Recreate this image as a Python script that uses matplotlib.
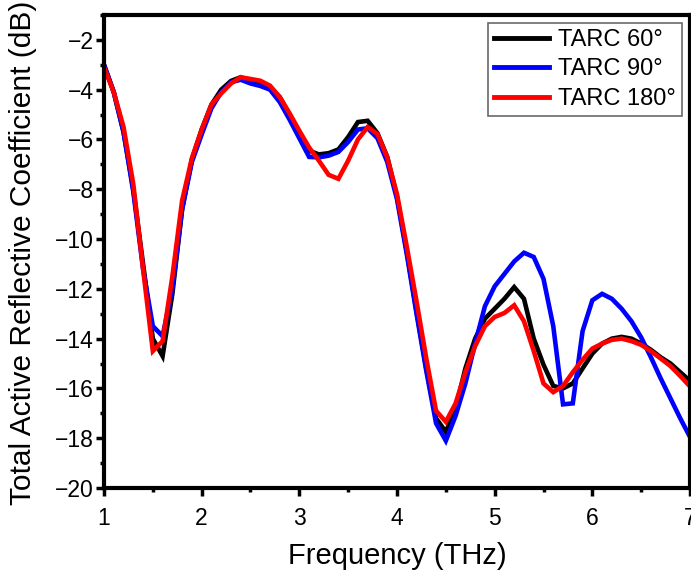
import numpy as np
import matplotlib
matplotlib.use("Agg")
import matplotlib.pyplot as plt
from matplotlib.ticker import MultipleLocator

plt.rcParams['font.family'] = ['Liberation Sans', 'DejaVu Sans']

# frequency points (THz)
freq = [1.0, 1.1, 1.2, 1.3, 1.4, 1.5, 1.6, 1.7, 1.8, 1.9,
        2.0, 2.1, 2.2, 2.3, 2.4, 2.5, 2.6, 2.7, 2.8, 2.9,
        3.0, 3.1, 3.2, 3.3, 3.4, 3.5, 3.6, 3.7, 3.8, 3.9,
        4.0, 4.1, 4.2, 4.3, 4.4, 4.5, 4.6, 4.7, 4.8, 4.9,
        5.0, 5.1, 5.2, 5.3, 5.4, 5.5, 5.6, 5.7, 5.8, 5.9,
        6.0, 6.1, 6.2, 6.3, 6.4, 6.5, 6.6, 6.7, 6.8, 6.9, 7.0]

tarc_60 = [-3.0, -4.1, -5.7, -8.0, -11.0, -14.0, -14.7, -12.2, -8.8, -6.8,
           -5.6, -4.6, -4.0, -3.65, -3.5, -3.65, -3.75, -3.9, -4.3, -5.0,
           -5.75, -6.45, -6.6, -6.55, -6.4, -5.9, -5.3, -5.25, -5.75, -6.7,
           -8.3, -10.5, -12.9, -15.2, -17.2, -17.75, -16.8, -15.2, -14.0, -13.2,
           -12.8, -12.4, -11.93, -12.4, -14.0, -15.05, -15.9, -16.0, -15.8, -15.2,
           -14.6, -14.2, -14.0, -13.93, -14.0, -14.2, -14.45, -14.75, -15.0, -15.35, -15.7]

tarc_90 = [-3.0, -4.1, -5.7, -8.1, -11.2, -13.5, -13.9, -12.0, -8.8, -6.9,
           -5.8, -4.75, -4.1, -3.7, -3.6, -3.75, -3.85, -4.0, -4.5, -5.2,
           -5.95, -6.7, -6.72, -6.65, -6.5, -6.1, -5.6, -5.55, -5.95, -6.9,
           -8.4, -10.6, -13.0, -15.3, -17.4, -18.1, -17.1, -15.8, -14.2, -12.7,
           -11.9, -11.4, -10.9, -10.55, -10.72, -11.6, -13.5, -16.64, -16.6, -13.7,
           -12.46, -12.2, -12.4, -12.8, -13.3, -13.95, -14.75, -15.6, -16.4, -17.2, -17.95]

tarc_180 = [-3.1, -4.1, -5.5, -7.8, -11.2, -14.5, -14.1, -11.5, -8.45, -6.75,
            -5.6, -4.6, -4.15, -3.75, -3.5, -3.57, -3.64, -3.84, -4.3, -4.95,
            -5.65, -6.32, -6.85, -7.42, -7.58, -6.85, -6.0, -5.5, -5.78, -6.72,
            -8.2, -10.3, -12.5, -14.8, -16.9, -17.34, -16.6, -15.35, -14.3, -13.5,
            -13.13, -12.97, -12.66, -13.3, -14.5, -15.8, -16.15, -15.9, -15.35, -14.85,
            -14.4, -14.2, -14.05, -14.0, -14.1, -14.25, -14.5, -14.8, -15.1, -15.5, -15.92]

series = [("TARC 60\u00b0", tarc_60, "black"),
          ("TARC 90\u00b0", tarc_90, "#0000ff"),
          ("TARC 180\u00b0", tarc_180, "#ff0000")]

fig = plt.figure(figsize=(6.91, 5.81), dpi=100)
ax = fig.add_axes([104 / 691, 1 - 488 / 581, 586 / 691, 473 / 581])

for label, vals, col in series:
    ax.plot(freq, vals, color=col, lw=3.3, label=label, solid_joinstyle='miter')

ax.set_xlim(1, 7)
ax.set_ylim(-20, -1)
ax.xaxis.set_major_locator(MultipleLocator(1))
ax.xaxis.set_minor_locator(MultipleLocator(0.5))
ax.yaxis.set_major_locator(MultipleLocator(2))
ax.yaxis.set_minor_locator(MultipleLocator(1))

for s in ax.spines.values():
    s.set_linewidth(3)
ax.tick_params(which='major', direction='out', length=5.5, width=2.5, labelsize=16.5)
ax.tick_params(axis='x', which='major', pad=8)
ax.tick_params(axis='y', which='major', pad=2)
ax.tick_params(which='minor', direction='out', length=3, width=2.5)

ax.set_xlabel("Frequency (THz)", fontsize=21)
ax.set_ylabel("Total Active Reflective Coefficient (dB)", fontsize=21.5)
ax.xaxis.set_label_coords(0.5, -0.115)
ax.yaxis.set_label_coords(-0.115, 0.497)

leg = ax.legend(loc='upper right', bbox_to_anchor=(0.986, 0.983), borderaxespad=0,
                fontsize=17, frameon=True, fancybox=False, handlelength=2.3,
                handletextpad=0.4, labelspacing=0.32, borderpad=0.25)
leg.get_frame().set_edgecolor('#444444')
leg.get_frame().set_linewidth(1.2)
for ln in leg.get_lines():
    ln.set_linewidth(3.5)

fig.savefig("out.png", dpi=100)
